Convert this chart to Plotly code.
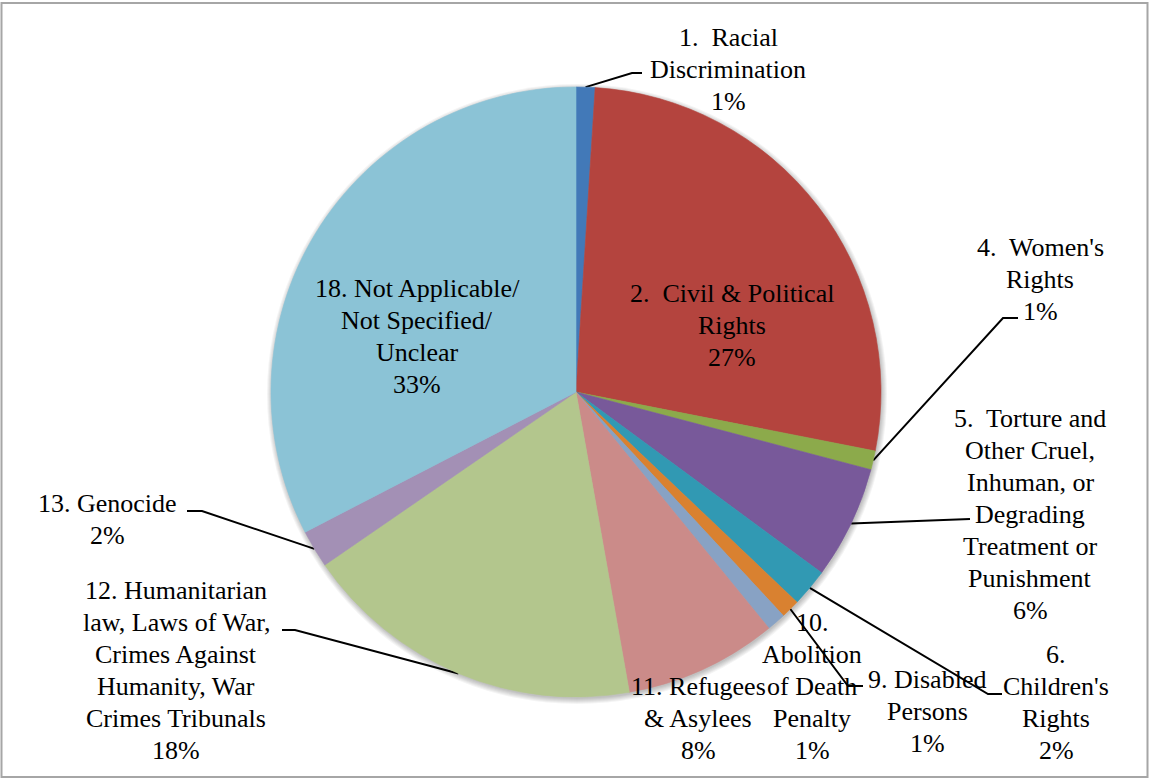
import math
import plotly.graph_objects as go

# Share of cases by subject area, in percent (clockwise from 12 o'clock)
categories = [
    "1.\u00a0 Racial\nDiscrimination",
    "2.\u00a0 Civil & Political\nRights",
    "4.\u00a0 Women's\nRights",
    "5.\u00a0 Torture and\nOther Cruel,\nInhuman, or\nDegrading\nTreatment or\nPunishment",
    "6.\nChildren's\nRights",
    "9. Disabled\nPersons",
    "10.\nAbolition\nof Death\nPenalty",
    "11. Refugees\n& Asylees",
    "12. Humanitarian\nlaw, Laws of War,\nCrimes Against\nHumanity, War\nCrimes Tribunals",
    "13. Genocide",
    "18. Not Applicable/\nNot Specified/\nUnclear",
]
shares = [1.0, 27.1, 1.0, 6.0, 2.0, 1.0, 1.0, 8.1, 18.2, 2.0, 32.6]

colors = [
    "#4279B8", "#B4443E", "#8CAA4B", "#78599A", "#3199B3", "#D98130",
    "#88A2C4", "#CB8B89", "#B3C68D", "#A390B5", "#8BC3D6",
]

# ---- page geometry (pixels, origin top-left) ----
W, H = 1150, 780
CX, CY, R = 576, 392, 305

# label blocks: centre x and first-line centre y; lines are 32 px apart
LINE_STEP = 32
label_pos = [
    (728, 37), (732, 293), (1040, 247), (1030, 418), (1056, 654),
    (927, 679), (812, 622), (698, 686), (176, 590), (107, 503), (417, 288),
]
# leader-line elbows (the line starts on the slice rim)
leaders = {
    0: [(632, 73), (642, 73)],
    2: [(1003, 318), (1018, 318)],
    3: [(955, 519), (970, 519)],
    4: [(988, 694), (1002, 694)],
    5: [(848, 686), (863, 686)],
    8: [(295, 630), (282, 630)],
    9: [(202, 511), (187, 511)],
}

FONT = dict(family="Liberation Serif, Times New Roman, serif", size=26, color="black")


def ydata(py):
    return H - py


total = sum(shares)

fig = go.Figure()

# leader lines from each slice's rim midpoint to its label
cum = 0.0
rim_points = []
for v in shares:
    ang = math.radians((cum + v / 2) / total * 360)
    rim_points.append((CX + R * math.sin(ang), CY - R * math.cos(ang)))
    cum += v

for i, elbow in leaders.items():
    pts = [rim_points[i]] + elbow
    fig.add_trace(go.Scatter(
        x=[p[0] for p in pts], y=[ydata(p[1]) for p in pts],
        mode="lines", line=dict(color="black", width=2),
        hoverinfo="skip", showlegend=False,
    ))

fig.add_trace(go.Pie(
    values=shares,
    labels=[c.replace("\n", " ") for c in categories],
    sort=False, direction="clockwise", rotation=0,
    marker=dict(colors=colors, line=dict(color=colors, width=0.6)),
    textinfo="none", hoverinfo="label+percent",
    domain=dict(x=[(CX - R) / W, (CX + R) / W],
                y=[(H - CY - R) / H, (H - CY + R) / H]),
    showlegend=False,
))

# labels: one annotation per line so line spacing is exact
annotations = []
for i, (name, v) in enumerate(zip(categories, shares)):
    lines = name.split("\n") + [f"{round(v / total * 100)}%"]
    x0, y0 = label_pos[i]
    for k, line in enumerate(lines):
        annotations.append(dict(
            x=x0, y=ydata(y0 + k * LINE_STEP), xref="x", yref="y",
            text=line, showarrow=False, xanchor="center", yanchor="middle",
            font=FONT,
        ))

# soft shadow under the pie
shapes = []
for k in range(6):
    r = R + k
    shapes.append(dict(
        type="circle", xref="x", yref="y", layer="below",
        x0=CX + 1 - r, x1=CX + 1 + r,
        y0=ydata(CY + 2) - r, y1=ydata(CY + 2) + r,
        fillcolor="rgba(0,0,0,0.045)", line=dict(width=0),
    ))
# chart frame
shapes.append(dict(
    type="rect", xref="x", yref="y", layer="above",
    x0=1.5, x1=1147.5, y0=ydata(777), y1=ydata(3),
    line=dict(color="#A6A6A6", width=2), fillcolor="rgba(0,0,0,0)",
))

fig.update_layout(
    width=W, height=H,
    margin=dict(l=0, r=0, t=0, b=0),
    paper_bgcolor="white", plot_bgcolor="white",
    xaxis=dict(range=[0, W], visible=False, fixedrange=True),
    yaxis=dict(range=[0, H], visible=False, fixedrange=True),
    annotations=annotations,
    shapes=shapes,
    showlegend=False,
)

fig.write_html("out.html")
